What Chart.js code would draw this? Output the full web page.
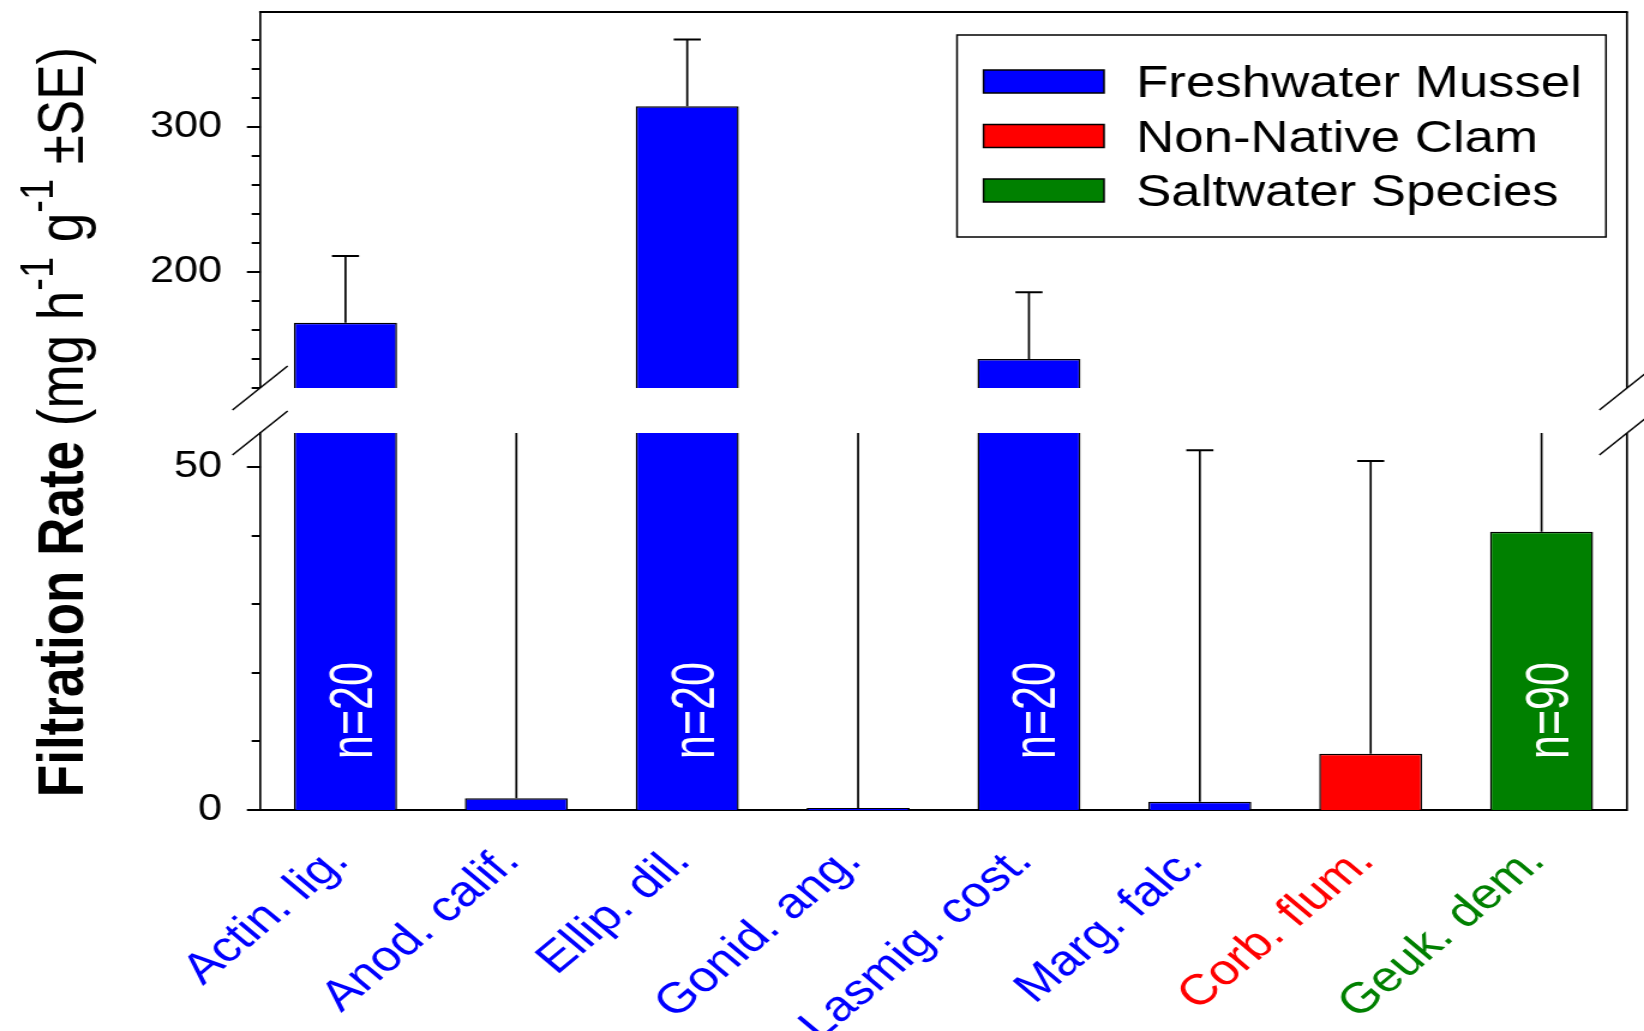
<!DOCTYPE html>
<html><head><meta charset="utf-8">
<script src="https://cdn.jsdelivr.net/npm/chart.js@4/dist/chart.umd.min.js"></script>
<style>html,body{margin:0;padding:0;background:#fff;overflow:hidden}</style>
</head><body>
<canvas id="c" width="1370" height="1031" style="display:block;width:1644px;height:1031px"></canvas>
<script>
// ---- data ----
const categories = ['Actin. lig.', 'Anod. calif.', 'Ellip. dil.', 'Gonid. ang.', 'Lasmig. cost.', 'Marg. falc.', 'Corb. flum.', 'Geuk. dem.'];
const categoryGroup = ['Freshwater Mussel', 'Freshwater Mussel', 'Freshwater Mussel', 'Freshwater Mussel', 'Freshwater Mussel', 'Freshwater Mussel', 'Non-Native Clam', 'Saltwater Species'];
const meanRate = [165, 1.7, 314, 0.3, 140, 1.2, 8.2, 40.6];
const seRate = [46, 70, 46, 65, 46, 51.3, 42.7, 25];
const sampleLabels = ['n=20', '', 'n=20', '', 'n=20', '', '', 'n=90'];
const legendGroups = ['Freshwater Mussel', 'Non-Native Clam', 'Saltwater Species'];
const groupColors = ['#0000ff', '#ff0000', '#008000'];
const lowerRange = [0, 55];
const upperRange = [120, 379];
const lowerTickLabels = [0, 50];
const upperTickLabels = [200, 300];
const lowerMinorStep = 10;
const upperMinorStep = 20;

const FONT = "'Liberation Sans', Arial, sans-serif";
const barColors = categoryGroup.map(g => groupColors[legendGroups.indexOf(g)]);

function fixWidth(s) { s.width = 216.7; s.paddingTop = 0; s.paddingBottom = 0; }
function stepTicks(range, step) {
  const out = [];
  for (let v = Math.ceil(range[0] / step) * step; v <= range[1]; v += step) out.push({value: v});
  return out;
}

const panelClip = {
  id: 'panelClip',
  beforeDatasetDraw(chart, args) {
    const ds = chart.data.datasets[args.index];
    const sc = chart.scales[ds.yAxisID];
    const a = chart.chartArea;
    chart.ctx.save();
    chart.ctx.beginPath();
    chart.ctx.rect(a.left - 5, sc.top, a.right - a.left + 10, sc.bottom - sc.top);
    chart.ctx.clip();
  },
  afterDatasetDraw(chart) { chart.ctx.restore(); }
};

const decorations = {
  id: 'decorations',
  afterDatasetsDraw(chart) {
    const ctx = chart.ctx, a = chart.chartArea;
    const lo = chart.scales.yLow, hi = chart.scales.yHigh;
    // error bars
    [[0, lo], [1, hi]].forEach(([di, sc]) => {
      const meta = chart.getDatasetMeta(di);
      ctx.save();
      ctx.beginPath();
      ctx.rect(a.left, sc.top, a.right - a.left, sc.bottom - sc.top);
      ctx.clip();
      ctx.strokeStyle = '#000';
      meta.data.forEach((bar, i) => {
        const x = bar.x;
        const y0 = sc.getPixelForValue(meanRate[i]);
        const y1 = sc.getPixelForValue(meanRate[i] + seRate[i]);
        ctx.lineWidth = 1.7;
        ctx.beginPath(); ctx.moveTo(x, y0); ctx.lineTo(x, y1); ctx.stroke();
        ctx.lineWidth = 2;
        ctx.beginPath(); ctx.moveTo(x - 11.3, y1); ctx.lineTo(x + 11.3, y1); ctx.stroke();
      });
      ctx.restore();
    });
    // sample size labels
    const meta = chart.getDatasetMeta(0);
    ctx.save();
    ctx.fillStyle = '#fff';
    ctx.font = '43px ' + FONT;
    ctx.textAlign = 'center';
    ctx.textBaseline = 'alphabetic';
    meta.data.forEach((bar, i) => {
      if (!sampleLabels[i]) return;
      ctx.save();
      ctx.translate(bar.x + 22, lo.getPixelForValue(14.5));
      ctx.rotate(-Math.PI / 2);
      ctx.scale(1, 1.15);
      ctx.fillText(sampleLabels[i], 0, 0);
      ctx.restore();
    });
    ctx.restore();
  },
  afterDraw(chart) {
    const ctx = chart.ctx, a = chart.chartArea;
    const lo = chart.scales.yLow, hi = chart.scales.yHigh;
    ctx.save();
    ctx.strokeStyle = '#000';
    ctx.fillStyle = '#000';
    // longer major tick marks (minor ones come from the scales' own tick marks)
    [[lo, lowerTickLabels], [hi, upperTickLabels]].forEach(([sc, majors]) => {
      majors.forEach(v => {
        const y = Math.round(sc.getPixelForValue(v));
        ctx.fillRect(a.left - 11, y - 1, 11.5, 2);
      });
    });
    // frame: top and right
    ctx.lineWidth = 2;
    ctx.beginPath(); ctx.moveTo(a.left - 0.8, a.top); ctx.lineTo(a.right + 0.8, a.top); ctx.stroke();
    ctx.lineWidth = 1.7;
    ctx.beginPath(); ctx.moveTo(a.right, a.top); ctx.lineTo(a.right, hi.bottom); ctx.stroke();
    ctx.beginPath(); ctx.moveTo(a.right, lo.top); ctx.lineTo(a.right, a.bottom + 1); ctx.stroke();
    // break marks
    ctx.lineWidth = 1.5;
    [a.left, a.right].forEach(x => {
      [hi.bottom, lo.top].forEach(y => {
        ctx.beginPath(); ctx.moveTo(x - 23, y + 22); ctx.lineTo(x + 23, y - 22); ctx.stroke();
      });
    });
    // legend
    ctx.lineWidth = 1.5;
    ctx.strokeRect(797.5, 35, 540.8, 202);
    ctx.font = '44px ' + FONT;
    ctx.textAlign = 'left';
    ctx.textBaseline = 'alphabetic';
    legendGroups.forEach((g, i) => {
      const cy = 81.5 + i * 54.5;
      ctx.fillStyle = groupColors[i];
      ctx.fillRect(819.6, cy - 11.5, 100.4, 23);
      ctx.lineWidth = 1.5;
      ctx.strokeRect(819.6, cy - 11.5, 100.4, 23);
      ctx.fillStyle = '#000';
      ctx.fillText(g, 946.7, cy + 15.5);
    });
    // y axis title
    const S = 53;
    const segs = [
      {t: 'Filtration Rate', f: 'bold ' + S + 'px ' + FONT, dy: 0},
      {t: ' (mg h', f: S + 'px ' + FONT, dy: 0},
      {t: '-1', f: Math.round(S * 0.72) + 'px ' + FONT, dy: -0.47 * S},
      {t: ' g', f: S + 'px ' + FONT, dy: 0},
      {t: '-1', f: Math.round(S * 0.72) + 'px ' + FONT, dy: -0.47 * S},
      {t: ' \u00b1SE)', f: S + 'px ' + FONT, dy: 0}
    ];
    let total = 0;
    segs.forEach(s => { ctx.font = s.f; s.w = ctx.measureText(s.t).width; total += s.w; });
    ctx.save();
    ctx.translate(68.5, 422 + total / 2);
    ctx.rotate(-Math.PI / 2);
    ctx.fillStyle = '#000';
    let x = 0;
    segs.forEach(s => { ctx.font = s.f; ctx.fillText(s.t, x, s.dy); x += s.w; });
    ctx.restore();
    ctx.restore();
  }
};

const commonDs = {
  backgroundColor: barColors,
  borderColor: '#000',
  borderWidth: 1.5,
  barPercentage: 0.603,
  categoryPercentage: 1,
  grouped: false
};

const yGrid = {display: true, drawOnChartArea: false, drawTicks: true, tickLength: 7, tickWidth: 2, tickColor: '#000', color: '#000', lineWidth: 0};

new Chart(document.getElementById('c'), {
  type: 'bar',
  data: {
    labels: categories,
    datasets: [
      Object.assign({label: 'lower', data: meanRate, yAxisID: 'yLow'}, commonDs),
      Object.assign({label: 'upper', data: meanRate, yAxisID: 'yHigh'}, commonDs)
    ]
  },
  options: {
    responsive: false,
    animation: false,
    devicePixelRatio: 1,
    layout: {padding: {top: 12, right: 14.2, left: 0, bottom: 0}},
    plugins: {legend: {display: false}, tooltip: {enabled: false}},
    scales: {
      x: {
        type: 'category', position: 'bottom', offset: true,
        grid: {display: false, drawTicks: false},
        border: {display: true, color: '#000', width: 2},
        ticks: {
          color: c => barColors[c.index],
          font: {family: FONT, size: 43},
          maxRotation: 45, minRotation: 45, autoSkip: false,
          padding: 26, labelOffset: -4
        },
        afterFit: s => { s.height = 221; s.paddingLeft = 0; s.paddingRight = 0; }
      },
      yLow: {
        type: 'linear', position: 'left', stack: 'left', stackWeight: 377,
        min: lowerRange[0], max: lowerRange[1],
        grid: yGrid,
        border: {display: true, color: '#000', width: 1.7},
        ticks: {
          autoSkip: false, padding: 24.7, color: '#000',
          font: {family: FONT, size: 36},
          callback: v => lowerTickLabels.includes(v) ? String(v) : ''
        },
        afterBuildTicks: s => { s.ticks = stepTicks(lowerRange, lowerMinorStep); },
        afterFit: fixWidth
      },
      yGap: {
        type: 'linear', position: 'left', stack: 'left', stackWeight: 45,
        min: 0, max: 1,
        grid: {display: false, drawTicks: false},
        border: {display: false},
        ticks: {display: false},
        afterFit: fixWidth
      },
      yHigh: {
        type: 'linear', position: 'left', stack: 'left', stackWeight: 376,
        min: upperRange[0], max: upperRange[1],
        grid: yGrid,
        border: {display: true, color: '#000', width: 1.7},
        ticks: {
          autoSkip: false, padding: 24.7, color: '#000',
          font: {family: FONT, size: 36},
          callback: v => upperTickLabels.includes(v) ? String(v) : ''
        },
        afterBuildTicks: s => { s.ticks = stepTicks(upperRange, upperMinorStep); },
        afterFit: fixWidth
      }
    }
  },
  plugins: [panelClip, decorations]
});
</script>
</body></html>
